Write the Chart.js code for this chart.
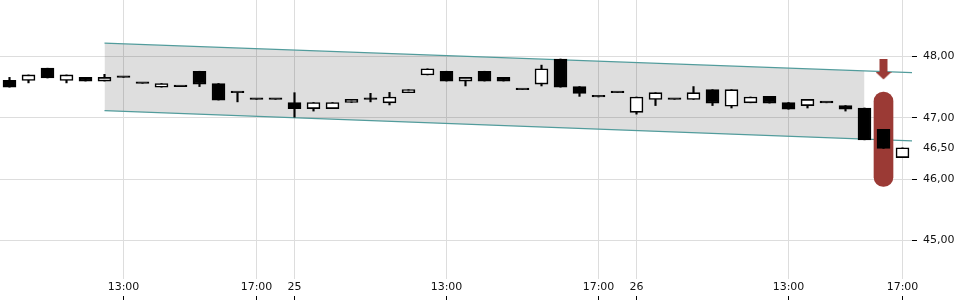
<!DOCTYPE html>
<html>
<head>
<meta charset="utf-8">
<title>Candles</title>
<script src="https://cdn.jsdelivr.net/npm/chart.js@4/dist/chart.umd.min.js"></script>
<style>
  html, body { margin: 0; padding: 0; background: #fff; }
  canvas { display: block; }
</style>
</head>
<body>
<canvas id="candleChart" width="960" height="300"></canvas>
<script>
// one candle per slot
const opens  = [47.61, 47.61, 47.81, 47.61, 47.66, 47.60, 47.66, 47.56, 47.50, 47.51,
                47.76, 47.56, 47.41, 47.30, 47.30, 47.25, 47.15, 47.15, 47.25, 47.30,
                47.245, 47.41, 47.70, 47.76, 47.60, 47.76, 47.66, 47.46, 47.55, 47.96,
                47.51, 47.34, 47.41, 47.09, 47.30, 47.30, 47.30, 47.46, 47.19, 47.245,
                47.35, 47.25, 47.20, 47.245, 47.20, 47.16, 46.81, 46.35];
const highs  = [47.66, 47.70, 47.81, 47.70, 47.66, 47.71, 47.66, 47.56, 47.56, 47.51,
                47.76, 47.56, 47.41, 47.30, 47.30, 47.41, 47.25, 47.25, 47.30, 47.40,
                47.415, 47.46, 47.80, 47.76, 47.66, 47.76, 47.66, 47.46, 47.86, 47.96,
                47.51, 47.34, 47.41, 47.34, 47.41, 47.30, 47.51, 47.46, 47.46, 47.34,
                47.35, 47.25, 47.30, 47.245, 47.20, 47.16, 46.81, 46.51];
const lows   = [47.50, 47.57, 47.65, 47.57, 47.60, 47.60, 47.66, 47.56, 47.50, 47.51,
                47.51, 47.29, 47.26, 47.30, 47.30, 47.01, 47.11, 47.15, 47.25, 47.26,
                47.21, 47.41, 47.70, 47.60, 47.52, 47.60, 47.60, 47.46, 47.52, 47.50,
                47.35, 47.34, 47.41, 47.06, 47.20, 47.30, 47.30, 47.20, 47.16, 47.245,
                47.24, 47.14, 47.16, 47.245, 47.11, 46.64, 46.50, 46.35];
const closes = [47.50, 47.70, 47.65, 47.70, 47.60, 47.66, 47.66, 47.56, 47.56, 47.51,
                47.55, 47.29, 47.41, 47.30, 47.30, 47.15, 47.25, 47.25, 47.30, 47.30,
                47.34, 47.46, 47.80, 47.60, 47.66, 47.60, 47.60, 47.46, 47.80, 47.50,
                47.40, 47.34, 47.41, 47.34, 47.41, 47.30, 47.41, 47.24, 47.46, 47.34,
                47.24, 47.14, 47.30, 47.245, 47.14, 46.64, 46.50, 46.51];

// time labels sit on these candle slots
const xTickIdx    = [6, 13, 15, 23, 31, 33, 41, 47];
const xTickLabels = ["13:00", "17:00", "25", "13:00", "17:00", "26", "13:00", "17:00"];
const yTicks = [45, 46, 46.5, 47, 48];
const lastPriceTick = 46.5;

// trend channel: [slot, value] ends
const channelUpper = [[5, 48.218], [47.5, 47.738]];
const channelLower = [[5, 47.117], [47.5, 46.623]];
const bandUpper = [[5, 48.218], [45, 47.766]];
const bandLower = [[5, 47.117], [45, 46.652]];

// current price marker
const markerSlot = 46;
const markerRange = [45.88, 47.42];
const arrowValue = 47.79;

const RED = "#9b3a35";
const TEAL = "#529c9c";

Chart.defaults.font.family = "'DejaVu Sans', sans-serif";
Chart.defaults.font.size = 11;

function toPoints(pairs) {
    return pairs.map(p => ({ x: p[0], y: p[1] }));
}

function noEdgePadding(scale) {
    // keep the plot flush with the canvas edges
    scale.paddingLeft = 0;
    scale.paddingRight = 0;
    scale.paddingTop = 0;
    scale.paddingBottom = 0;
}

function arrowGlyph() {
    // small down arrow used as point style
    const c = document.createElement("canvas");
    c.width = 16;
    c.height = 21;
    const g = c.getContext("2d");
    g.fillStyle = RED;
    g.fillRect(4, 0, 8, 13.5);
    g.beginPath();
    g.moveTo(0, 13);
    g.lineTo(16, 13);
    g.lineTo(8, 20.5);
    g.closePath();
    g.fill();
    return c;
}

const bodies = opens.map((o, i) => ({ x: i, y: [o, closes[i]] }));
const wicks = lows.map((l, i) => ({ x: i, y: [l, highs[i]] }));

const ctx = document.getElementById("candleChart").getContext("2d");

new Chart(ctx, {
    type: "bar",
    data: {
        datasets: [
            {
                type: "line",
                data: toPoints(bandUpper),
                borderWidth: 0,
                pointRadius: 0,
                fill: "+1",
                backgroundColor: "rgba(0, 0, 0, 0.13)",
                order: 9
            },
            {
                type: "line",
                data: toPoints(bandLower),
                borderWidth: 0,
                pointRadius: 0,
                fill: false,
                order: 8
            },
            {
                type: "line",
                data: toPoints(channelUpper),
                borderColor: TEAL,
                borderWidth: 1.2,
                pointRadius: 0,
                fill: false,
                order: 7
            },
            {
                type: "line",
                data: toPoints(channelLower),
                borderColor: TEAL,
                borderWidth: 1.2,
                pointRadius: 0,
                fill: false,
                order: 6
            },
            {
                data: [{ x: markerSlot, y: markerRange }],
                backgroundColor: RED,
                borderWidth: 0,
                barThickness: 19,
                borderRadius: 9.5,
                borderSkipped: false,
                grouped: false,
                order: 5
            },
            {
                data: wicks,
                backgroundColor: "#000",
                borderWidth: 0,
                barThickness: 1.5,
                grouped: false,
                order: 4
            },
            {
                data: bodies,
                backgroundColor: c => closes[c.dataIndex] > opens[c.dataIndex] ? "#fff" : "#000",
                borderColor: "#000",
                borderWidth: 1.6,
                borderSkipped: false,
                barThickness: 13,
                minBarLength: 1.6,
                grouped: false,
                order: 3
            },
            {
                type: "line",
                data: [{ x: markerSlot, y: arrowValue }],
                showLine: false,
                pointStyle: arrowGlyph(),
                pointRadius: 8,
                order: 1
            }
        ]
    },
    options: {
        responsive: false,
        animation: false,
        events: [],
        layout: { padding: 0, autoPadding: false },
        plugins: {
            legend: { display: false },
            tooltip: { enabled: false }
        },
        scales: {
            x: {
                type: "linear",
                position: "bottom",
                weight: 0,
                min: -0.5,
                max: 47.5,
                offset: false,
                afterBuildTicks: scale => {
                    scale.ticks = xTickIdx.map(v => ({ value: v }));
                },
                afterFit: noEdgePadding,
                ticks: {
                    autoSkip: false,
                    maxRotation: 0,
                    padding: 2,
                    color: "#111",
                    callback: v => xTickLabels[xTickIdx.indexOf(v)]
                },
                grid: { color: "#dddddd", offset: false, drawTicks: false },
                border: { display: false }
            },
            xMarks: {
                type: "linear",
                position: "bottom",
                axis: "x",
                weight: 1,
                min: -0.5,
                max: 47.5,
                offset: false,
                afterBuildTicks: scale => {
                    scale.ticks = xTickIdx.map(v => ({ value: v }));
                },
                afterFit: noEdgePadding,
                ticks: { display: false },
                grid: {
                    drawOnChartArea: false,
                    offset: false,
                    tickLength: 3.8,
                    tickColor: "#000"
                },
                border: { display: false }
            },
            y: {
                type: "linear",
                position: "right",
                min: 44.369,
                max: 48.923,
                afterBuildTicks: scale => {
                    scale.ticks = yTicks.map(v => ({ value: v }));
                },
                afterFit: scale => {
                    scale.width = 48;
                    noEdgePadding(scale);
                },
                ticks: {
                    autoSkip: false,
                    padding: 6,
                    color: "#111",
                    callback: v => v.toFixed(2).replace(".", ",")
                },
                grid: {
                    color: c => (c.tick && c.tick.value === lastPriceTick) ? "rgba(0,0,0,0)" : "#dddddd",
                    tickColor: c => (c.tick && c.tick.value === lastPriceTick) ? "rgba(0,0,0,0)" : "#000",
                    tickLength: 5
                },
                border: { display: false }
            }
        }
    }
});
</script>
</body>
</html>
